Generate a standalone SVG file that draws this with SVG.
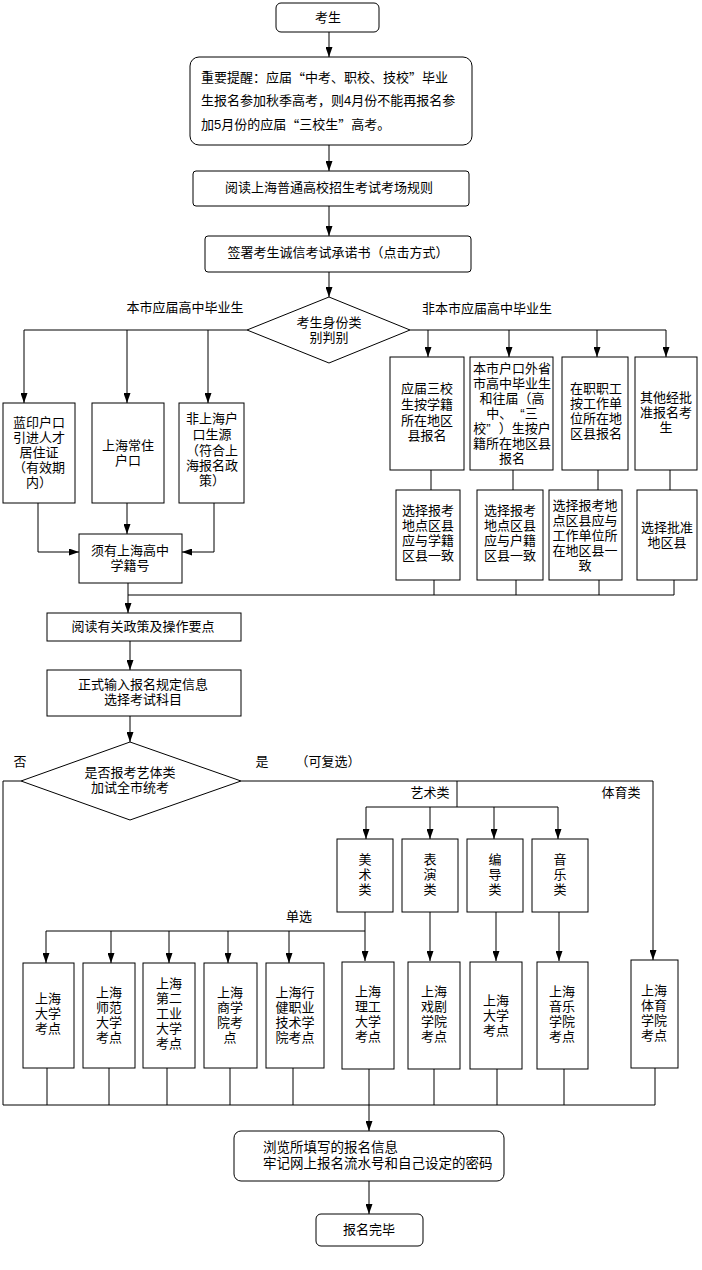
<svg xmlns="http://www.w3.org/2000/svg" width="702" height="1270" viewBox="0 0 702 1270">
<style>
.bx{fill:#fff;stroke:#000;stroke-width:1}
.ln{fill:none;stroke:#000;stroke-width:1}
.ar{fill:none;stroke:#000;stroke-width:1;marker-end:url(#ah)}
text{font-family:"Liberation Sans","Noto Sans CJK SC",sans-serif;font-size:13px;fill:#000;dominant-baseline:central}
.q{font-family:"Noto Sans CJK SC",sans-serif}
.c{text-anchor:middle}
.l{text-anchor:start}
</style>
<defs>
<marker id="ah" markerUnits="userSpaceOnUse" markerWidth="10" markerHeight="7" refX="10" refY="3.5" orient="auto">
<path d="M0,0 L10,3.5 L0,7 z" fill="#000"/>
</marker>
</defs>
<rect width="702" height="1270" fill="#fff"/>

<g id="connectors">
<path class="ar" d="M329,32 V57"/>
<path class="ar" d="M329,145 V171"/>
<path class="ar" d="M329,206 V236"/>
<path class="ar" d="M329,272 V297"/>
<path class="ln" d="M247,330 H24"/>
<path class="ar" d="M24,330 V403"/>
<path class="ar" d="M127,330 V403"/>
<path class="ar" d="M208,330 V403"/>
<path class="ar" d="M38,503 V552 H79"/>
<path class="ar" d="M127,503 V534"/>
<path class="ar" d="M214,503 V552 H182"/>
<path class="ar" d="M128,583 V613"/>
<path class="ln" d="M128,595 H674"/>
<path class="ln" d="M410,330 H666"/>
<path class="ar" d="M428,330 V357"/>
<path class="ar" d="M509,330 V357"/>
<path class="ar" d="M597,330 V357"/>
<path class="ar" d="M666,330 V357"/>
<path class="ln" d="M431,470 V490 M513,470 V490 M598,470 V490 M670,470 V490"/>
<path class="ln" d="M434,580 V595 M516,580 V595 M599,580 V595 M674,580 V595"/>
<path class="ar" d="M130,641 V670"/>
<path class="ar" d="M130,716 V742"/>
<path class="ln" d="M21,781 H3 V1105 H655"/>
<path class="ar" d="M241,781 H653 V960"/>
<path class="ln" d="M457,781 V807 M366,807 H558"/>
<path class="ar" d="M366,807 V839"/>
<path class="ar" d="M430,807 V839"/>
<path class="ar" d="M494,807 V839"/>
<path class="ar" d="M558,807 V839"/>
<path class="ar" d="M365,912 V961"/>
<path class="ar" d="M430,912 V961"/>
<path class="ar" d="M496,912 V961"/>
<path class="ar" d="M559,912 V961"/>
<path class="ln" d="M46,931 H365"/>
<path class="ar" d="M46,931 V963"/>
<path class="ar" d="M111,931 V963"/>
<path class="ar" d="M169,931 V963"/>
<path class="ar" d="M228,931 V963"/>
<path class="ar" d="M289,931 V963"/>
<path class="ln" d="M47,1068 V1105 M109,1068 V1105 M167,1068 V1105 M230,1068 V1105 M293,1068 V1105 M434,1069 V1105 M497,1069 V1105 M564,1069 V1105 M655,1068 V1105"/>
<path class="ar" d="M369,1069 V1131"/>
<path class="ar" d="M369,1181 V1214"/>
<text class="c" x="185" y="307">本市应届高中毕业生</text>
<text class="c" x="487" y="308">非本市应届高中毕业生</text>
<text class="c" x="20" y="761">否</text>
<text class="c" x="262" y="761">是</text>
<text class="c" x="328" y="761">（可复选）</text>
<text class="c" x="430" y="792">艺术类</text>
<text class="c" x="621" y="792">体育类</text>
<text class="c" x="299" y="916">单选</text>
</g>

<g id="n-kaosheng">
<rect class="bx" x="276" y="3" width="103" height="29" rx="5"/>
<text class="c" x="328" y="17">考生</text>
</g>
<g id="n-reminder">
<rect class="bx" x="190" y="57" width="282" height="88" rx="9"/>
<text class="l" y="77"><tspan x="201">重要提醒：应届<tspan class="q">“</tspan>中考、职校、技校<tspan class="q">”</tspan>毕业</tspan><tspan x="201" dy="23">生报名参加秋季高考，则4月份不能再报名参</tspan><tspan x="201" dy="24">加5月份的应届<tspan class="q">“</tspan>三校生<tspan class="q">”</tspan>高考。</tspan></text>
</g>
<g id="n-rules">
<rect class="bx" x="193" y="171" width="276" height="35" rx="3"/>
<text class="c" x="329" y="187">阅读上海普通高校招生考试考场规则</text>
</g>
<g id="n-pledge">
<rect class="bx" x="205" y="236" width="266" height="36" rx="3"/>
<text class="c" x="338" y="252">签署考生诚信考试承诺书（点击方式）</text>
</g>
<g id="n-identity">
<polygon class="bx" points="329,297 410,330 329,363 247,330"/>
<text class="c" y="322"><tspan x="329">考生身份类</tspan><tspan x="329" dy="15">别判别</tspan></text>
</g>

<g id="n-lan">
<rect class="bx" x="3" y="403" width="72" height="100"/>
<text class="c" y="422"><tspan x="39">蓝印户口</tspan><tspan x="39" dy="15">引进人才</tspan><tspan x="39" dy="15">居住证</tspan><tspan x="39" dy="15">（有效期</tspan><tspan x="39" dy="15">内）</tspan></text>
</g>
<g id="n-changzhu">
<rect class="bx" x="92" y="403" width="72" height="100"/>
<text class="c" y="445"><tspan x="128">上海常住</tspan><tspan x="128" dy="15">户口</tspan></text>
</g>
<g id="n-feihu">
<rect class="bx" x="179" y="403" width="65" height="100"/>
<text class="c" y="418"><tspan x="212">非上海户</tspan><tspan x="212" dy="16">口生源</tspan><tspan x="212" dy="16">（符合上</tspan><tspan x="212" dy="15">海报名政</tspan><tspan x="212" dy="15">策）</tspan></text>
</g>
<g id="n-xueji">
<rect class="bx" x="79" y="534" width="103" height="49"/>
<text class="c" y="550"><tspan x="130">须有上海高中</tspan><tspan x="130" dy="15">学籍号</tspan></text>
</g>

<g id="n-a1">
<rect class="bx" x="390" y="357" width="74" height="113"/>
<text class="c" y="388"><tspan x="427">应届三校</tspan><tspan x="427" dy="16">生按学籍</tspan><tspan x="427" dy="16">所在地区</tspan><tspan x="427" dy="15">县报名</tspan></text>
</g>
<g id="n-b1">
<rect class="bx" x="470" y="357" width="83" height="113"/>
<text class="c" y="368"><tspan x="512">本市户口外省</tspan><tspan x="512" dy="15">市高中毕业生</tspan><tspan x="512" dy="15">和往届（高</tspan><tspan x="512" dy="15" dx="0 0 8 0">中、“三</tspan><tspan x="512" dy="15" dx="0 0 8">校”）生按户</tspan><tspan x="512" dy="15">籍所在地区县</tspan><tspan x="512" dy="15">报名</tspan></text>
</g>
<g id="n-c1">
<rect class="bx" x="562" y="357" width="66" height="113"/>
<text class="c" y="388"><tspan x="596">在职职工</tspan><tspan x="596" dy="15">按工作单</tspan><tspan x="596" dy="15">位所在地</tspan><tspan x="596" dy="15">区县报名</tspan></text>
</g>
<g id="n-d1">
<rect class="bx" x="635" y="357" width="62" height="113"/>
<text class="c" y="397"><tspan x="666">其他经批</tspan><tspan x="666" dy="15">准报名考</tspan><tspan x="666" dy="15">生</tspan></text>
</g>
<g id="n-a2">
<rect class="bx" x="396" y="490" width="64" height="90"/>
<text class="c" y="510"><tspan x="428">选择报考</tspan><tspan x="428" dy="15">地点区县</tspan><tspan x="428" dy="15">应与学籍</tspan><tspan x="428" dy="15">区县一致</tspan></text>
</g>
<g id="n-b2">
<rect class="bx" x="477" y="490" width="66" height="90"/>
<text class="c" y="510"><tspan x="510">选择报考</tspan><tspan x="510" dy="15">地点区县</tspan><tspan x="510" dy="15">应与户籍</tspan><tspan x="510" dy="15">区县一致</tspan></text>
</g>
<g id="n-c2">
<rect class="bx" x="549" y="490" width="73" height="90"/>
<text class="c" y="505"><tspan x="585">选择报考地</tspan><tspan x="585" dy="15">点区县应与</tspan><tspan x="585" dy="15">工作单位所</tspan><tspan x="585" dy="15">在地区县一</tspan><tspan x="585" dy="15">致</tspan></text>
</g>
<g id="n-d2">
<rect class="bx" x="637" y="490" width="60" height="90"/>
<text class="c" y="527"><tspan x="667">选择批准</tspan><tspan x="667" dy="15">地区县</tspan></text>
</g>

<g id="n-policy">
<rect class="bx" x="47" y="613" width="194" height="28"/>
<text class="c" x="143" y="626">阅读有关政策及操作要点</text>
</g>
<g id="n-input">
<rect class="bx" x="47" y="670" width="194" height="46"/>
<text class="c" y="684"><tspan x="143">正式输入报名规定信息</tspan><tspan x="143" dy="15">选择考试科目</tspan></text>
</g>
<g id="n-arts">
<polygon class="bx" points="130,742 241,781 130,820 21,781"/>
<text class="c" y="772"><tspan x="130">是否报考艺体类</tspan><tspan x="130" dy="15">加试全市统考</tspan></text>
</g>

<g id="n-meishu">
<rect class="bx" x="337" y="839" width="56" height="73"/>
<text class="c" y="859"><tspan x="365">美</tspan><tspan x="365" dy="15">术</tspan><tspan x="365" dy="15">类</tspan></text>
</g>
<g id="n-biaoyan">
<rect class="bx" x="402" y="839" width="56" height="73"/>
<text class="c" y="859"><tspan x="430">表</tspan><tspan x="430" dy="15">演</tspan><tspan x="430" dy="15">类</tspan></text>
</g>
<g id="n-biandao">
<rect class="bx" x="467" y="839" width="56" height="73"/>
<text class="c" y="859"><tspan x="495">编</tspan><tspan x="495" dy="15">导</tspan><tspan x="495" dy="15">类</tspan></text>
</g>
<g id="n-yinyue">
<rect class="bx" x="532" y="839" width="56" height="73"/>
<text class="c" y="859"><tspan x="560">音</tspan><tspan x="560" dy="15">乐</tspan><tspan x="560" dy="15">类</tspan></text>
</g>

<g id="n-shu">
<rect class="bx" x="23" y="963" width="51" height="105"/>
<text class="c" y="998"><tspan x="48">上海</tspan><tspan x="48" dy="15">大学</tspan><tspan x="48" dy="15">考点</tspan></text>
</g>
<g id="n-shnu">
<rect class="bx" x="83" y="963" width="52" height="105"/>
<text class="c" y="992"><tspan x="109">上海</tspan><tspan x="109" dy="15">师范</tspan><tspan x="109" dy="15">大学</tspan><tspan x="109" dy="15">考点</tspan></text>
</g>
<g id="n-sspu">
<rect class="bx" x="143" y="963" width="52" height="105"/>
<text class="c" y="983"><tspan x="169">上海</tspan><tspan x="169" dy="15">第二</tspan><tspan x="169" dy="15">工业</tspan><tspan x="169" dy="15">大学</tspan><tspan x="169" dy="15">考点</tspan></text>
</g>
<g id="n-sbs">
<rect class="bx" x="204" y="963" width="53" height="105"/>
<text class="c" y="992"><tspan x="230">上海</tspan><tspan x="230" dy="15">商学</tspan><tspan x="230" dy="15">院考</tspan><tspan x="230" dy="15">点</tspan></text>
</g>
<g id="n-xingjian">
<rect class="bx" x="266" y="963" width="58" height="105"/>
<text class="c" y="992"><tspan x="295">上海行</tspan><tspan x="295" dy="15">健职业</tspan><tspan x="295" dy="15">技术学</tspan><tspan x="295" dy="15">院考点</tspan></text>
</g>
<g id="n-usst">
<rect class="bx" x="342" y="962" width="52" height="107"/>
<text class="c" y="991"><tspan x="368">上海</tspan><tspan x="368" dy="15">理工</tspan><tspan x="368" dy="15">大学</tspan><tspan x="368" dy="15">考点</tspan></text>
</g>
<g id="n-sta">
<rect class="bx" x="408" y="962" width="52" height="107"/>
<text class="c" y="991"><tspan x="434">上海</tspan><tspan x="434" dy="15">戏剧</tspan><tspan x="434" dy="15">学院</tspan><tspan x="434" dy="15">考点</tspan></text>
</g>
<g id="n-shu2">
<rect class="bx" x="470" y="962" width="52" height="107"/>
<text class="c" y="1000"><tspan x="496">上海</tspan><tspan x="496" dy="15">大学</tspan><tspan x="496" dy="15">考点</tspan></text>
</g>
<g id="n-shcm">
<rect class="bx" x="537" y="962" width="51" height="107"/>
<text class="c" y="991"><tspan x="562">上海</tspan><tspan x="562" dy="15">音乐</tspan><tspan x="562" dy="15">学院</tspan><tspan x="562" dy="15">考点</tspan></text>
</g>
<g id="n-sus">
<rect class="bx" x="631" y="960" width="47" height="108"/>
<text class="c" y="990"><tspan x="654">上海</tspan><tspan x="654" dy="15">体育</tspan><tspan x="654" dy="15">学院</tspan><tspan x="654" dy="15">考点</tspan></text>
</g>

<g id="n-browse">
<rect class="bx" x="234" y="1131" width="270" height="50" rx="7"/>
<text class="l" y="1147" style="font-size:13.5px"><tspan x="263">浏览所填写的报名信息</tspan><tspan x="263" dy="15.5">牢记网上报名流水号和自己设定的密码</tspan></text>
</g>
<g id="n-done">
<rect class="bx" x="316" y="1214" width="107" height="32" rx="5"/>
<text class="c" x="369" y="1229">报名完毕</text>
</g>
</svg>
